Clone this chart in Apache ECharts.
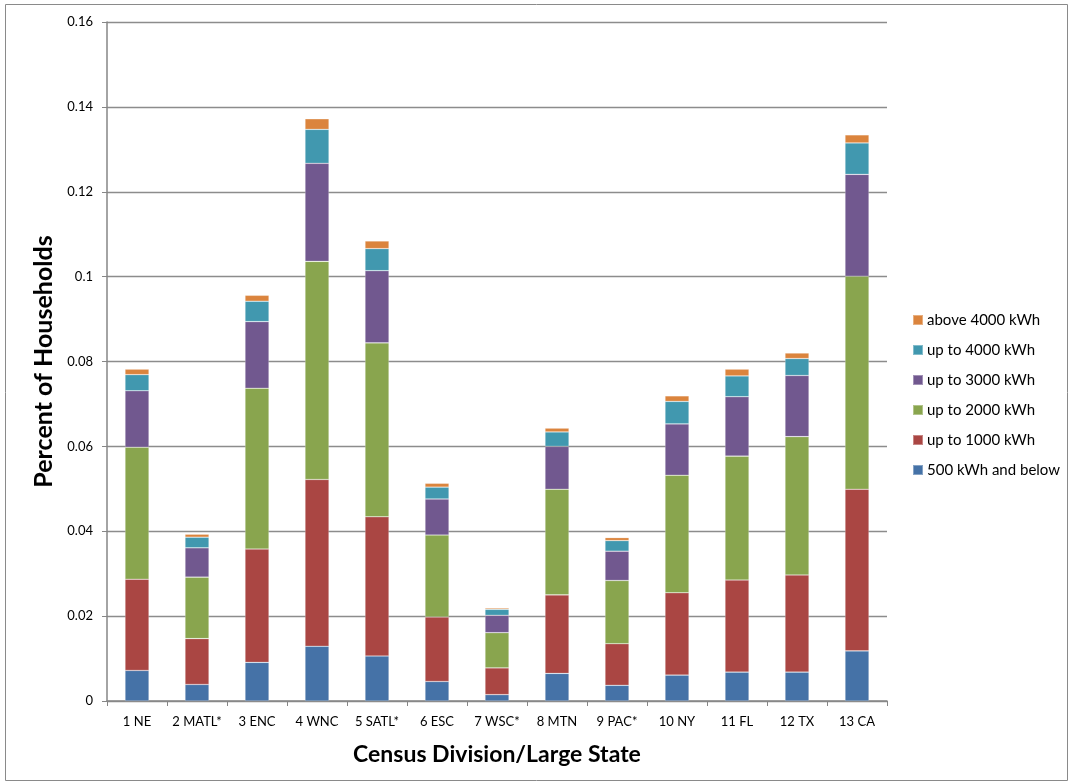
<!DOCTYPE html>
<html>
<head>
<meta charset="utf-8">
<title>Households by Monthly Electricity Use</title>
<script src="https://cdn.jsdelivr.net/npm/echarts@6/dist/echarts.min.js"></script>
<style>
  html, body { margin: 0; padding: 0; background: #fff; }
  #chart { width: 1070px; height: 783px; }
</style>
</head>
<body>
<div id="chart"></div>
<script>
// Census divisions and large states
const categories = ['1 NE', '2 MATL*', '3 ENC', '4 WNC', '5 SATL*', '6 ESC', '7 WSC*', '8 MTN', '9 PAC*', '10 NY', '11 FL', '12 TX', '13 CA'];

// Share of households in each usage band (stacked from the bottom up)
const below500  = [0.0072, 0.0039, 0.0091, 0.0129, 0.0106, 0.0046, 0.0015, 0.0065, 0.0037, 0.0061, 0.0068, 0.0068, 0.0118];
const upTo1000  = [0.0215, 0.0108, 0.0267, 0.0393, 0.0328, 0.0152, 0.0063, 0.0185, 0.0098, 0.0194, 0.0217, 0.0229, 0.0381];
const upTo2000  = [0.0311, 0.0145, 0.0379, 0.0514, 0.0410, 0.0193, 0.0083, 0.0249, 0.0149, 0.0277, 0.0292, 0.0326, 0.0502];
const upTo3000  = [0.0133, 0.0069, 0.0157, 0.0231, 0.0170, 0.0085, 0.0041, 0.0101, 0.0069, 0.0121, 0.0140, 0.0144, 0.0240];
const upTo4000  = [0.0038, 0.0025, 0.0048, 0.0080, 0.0052, 0.0028, 0.0014, 0.0034, 0.0025, 0.0053, 0.0049, 0.0040, 0.0074];
const above4000 = [0.0013, 0.0007, 0.0014, 0.0025, 0.0018, 0.0009, 0.0003, 0.0009, 0.0007, 0.0013, 0.0016, 0.0013, 0.0019];

const seriesNames = ['500 kWh and below', 'up to 1000 kWh', 'up to 2000 kWh', 'up to 3000 kWh', 'up to 4000 kWh', 'above 4000 kWh'];
const seriesData = [below500, upTo1000, upTo2000, upTo3000, upTo4000, above4000];
const seriesColors = ['#4572A7', '#AA4643', '#89A54E', '#71588F', '#4198AF', '#DB843D'];

const FONT = 'Lato, "Open Sans", sans-serif';

const chart = echarts.init(document.getElementById('chart'), null, { renderer: 'canvas' });

chart.setOption({
  animation: false,
  backgroundColor: '#ffffff',
  color: seriesColors,
  textStyle: { fontFamily: FONT },
  graphic: [{
    type: 'rect',
    shape: { x: 5.5, y: 4.5, width: 1062, height: 776 },
    style: { fill: 'none', stroke: '#8a8a8a', lineWidth: 1 },
    silent: true,
    z: -1
  }],
  grid: { left: 107, right: 183, top: 22, bottom: 82, containLabel: false },
  legend: {
    orient: 'vertical',
    left: 912,
    top: 311,
    padding: 0,
    icon: 'rect',
    itemWidth: 10,
    itemHeight: 10,
    itemGap: 12,
    data: seriesNames.slice().reverse(),
    textStyle: { fontFamily: FONT, fontSize: 15, color: '#000', lineHeight: 18, padding: [0, 0, 0, -1] }
  },
  xAxis: {
    type: 'category',
    data: categories,
    name: 'Census Division/Large State',
    nameLocation: 'middle',
    nameGap: 42,
    nameTextStyle: { fontFamily: FONT, fontSize: 23, fontWeight: 'bold', color: '#000' },
    axisLine: { lineStyle: { color: '#868686', width: 1.5 } },
    axisTick: { show: true, length: 5, alignWithLabel: false, lineStyle: { color: '#868686' } },
    axisLabel: { fontFamily: FONT, fontSize: 13, color: '#000', margin: 14, interval: 0 }
  },
  yAxis: {
    type: 'value',
    min: 0,
    max: 0.16,
    interval: 0.02,
    name: 'Percent of Households',
    nameLocation: 'middle',
    nameGap: 51,
    nameRotate: 90,
    nameTextStyle: { fontFamily: FONT, fontSize: 25, fontWeight: 'bold', color: '#000' },
    axisLine: { show: true, lineStyle: { color: '#868686', width: 1.5 } },
    axisTick: { show: true, length: 5, inside: false, lineStyle: { color: '#868686' } },
    axisLabel: {
      fontFamily: FONT, fontSize: 13, color: '#000', margin: 14,
      formatter: v => String(parseFloat(v.toFixed(2)))
    },
    splitLine: { show: true, lineStyle: { color: '#8c8c8c', width: 1.3 } }
  },
  series: seriesNames.map((name, i) => ({
    name,
    type: 'bar',
    stack: 'total',
    barWidth: 24,
    data: seriesData[i],
    itemStyle: { color: seriesColors[i], borderColor: 'rgba(255,255,255,0.35)', borderWidth: 0.6 },
    emphasis: { disabled: true }
  }))
});
</script>
</body>
</html>
